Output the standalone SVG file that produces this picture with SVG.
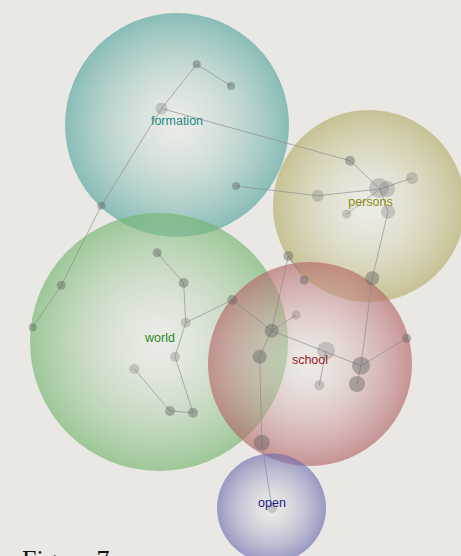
<svg xmlns="http://www.w3.org/2000/svg" width="461" height="556" viewBox="0 0 461 556">
<style>
.lbl{font-family:"Liberation Sans",Arial,sans-serif;font-size:12.5px;text-anchor:middle}
.d{fill:#5e5e5e;fill-opacity:0.42}
.dl{fill:#7a7a7a;fill-opacity:0.33}
.e{stroke:#8a8a8a;stroke-width:1;stroke-opacity:0.65;fill:none}
</style>
<defs>
<radialGradient id="gT"><stop offset="0" stop-color="#f4f4f0" stop-opacity="0.3"/><stop offset="1" stop-color="#4ea29c" stop-opacity="0.62"/></radialGradient>
<radialGradient id="gP"><stop offset="0" stop-color="#f4f4f0" stop-opacity="0.3"/><stop offset="1" stop-color="#b2aa62" stop-opacity="0.62"/></radialGradient>
<radialGradient id="gW"><stop offset="0" stop-color="#f4f4f0" stop-opacity="0.3"/><stop offset="1" stop-color="#6fb36a" stop-opacity="0.62"/></radialGradient>
<radialGradient id="gS"><stop offset="0" stop-color="#f4f4f0" stop-opacity="0.3"/><stop offset="1" stop-color="#b25f62" stop-opacity="0.62"/></radialGradient>
<radialGradient id="gO"><stop offset="0" stop-color="#f4f4f0" stop-opacity="0.3"/><stop offset="1" stop-color="#6767ad" stop-opacity="0.62"/></radialGradient>
</defs>
<rect width="461" height="556" fill="#e9e8e4"/>
<g id="formation-bubble"><circle cx="177" cy="125" r="112" fill="url(#gT)"/></g>
<g id="persons-bubble"><circle cx="369" cy="206" r="96" fill="url(#gP)"/></g>
<g id="world-bubble"><circle cx="159" cy="342" r="129" fill="url(#gW)"/></g>
<g id="school-bubble"><circle cx="310" cy="364" r="102" fill="url(#gS)"/></g>
<g id="open-bubble"><circle cx="271.5" cy="508" r="54.5" fill="url(#gO)"/></g>
<g id="connectors" class="e">
<line x1="196.7" y1="64.3" x2="231" y2="86"/>
<line x1="196.7" y1="64.3" x2="161.5" y2="108.5"/>
<line x1="161.5" y1="108.5" x2="101.3" y2="205.7"/>
<line x1="101.3" y1="205.7" x2="61.3" y2="285.3"/>
<line x1="61.3" y1="285.3" x2="32.7" y2="327.3"/>
<line x1="161.5" y1="108.5" x2="350" y2="160.7"/>
<line x1="236" y1="186" x2="317.7" y2="195.7"/>
<line x1="317.7" y1="195.7" x2="380" y2="189"/>
<line x1="350" y1="160.7" x2="380" y2="189"/>
<line x1="380" y1="189" x2="412" y2="178"/>
<line x1="380" y1="189" x2="346.7" y2="214"/>
<line x1="380" y1="189" x2="388" y2="211.7"/>
<line x1="388" y1="211.7" x2="372.3" y2="278.3"/>
<line x1="372.3" y1="278.3" x2="361" y2="365.7"/>
<line x1="361" y1="365.7" x2="357" y2="384"/>
<line x1="361" y1="365.7" x2="406.7" y2="338.3"/>
<line x1="271.7" y1="330.7" x2="361" y2="365.7"/>
<line x1="232.3" y1="300" x2="271.7" y2="330.7"/>
<line x1="185.7" y1="322.7" x2="232.3" y2="300"/>
<line x1="157.3" y1="252.7" x2="183.7" y2="283"/>
<line x1="183.7" y1="283" x2="185.7" y2="322.7"/>
<line x1="185.7" y1="322.7" x2="175" y2="356.7"/>
<line x1="175" y1="356.7" x2="193" y2="412.7"/>
<line x1="193" y1="412.7" x2="170" y2="411"/>
<line x1="170" y1="411" x2="134.3" y2="369"/>
<line x1="288.3" y1="256" x2="271.7" y2="330.7"/>
<line x1="288.3" y1="256" x2="304.3" y2="280"/>
<line x1="271.7" y1="330.7" x2="296" y2="315"/>
<line x1="271.7" y1="330.7" x2="259.7" y2="356.7"/>
<line x1="259.7" y1="356.7" x2="261.7" y2="442.7"/>
<line x1="261.7" y1="442.7" x2="272" y2="508"/>
<line x1="326" y1="350.7" x2="319.3" y2="385.3"/>
</g>
<g id="n1"><circle class="d" cx="196.7" cy="64.3" r="4"/></g>
<g id="n2"><circle class="d" cx="231" cy="86" r="4"/></g>
<g id="n3"><circle class="dl" cx="161.5" cy="108.5" r="6"/></g>
<g id="n4"><circle class="d" cx="236" cy="186" r="4"/></g>
<g id="n5"><circle class="d" cx="101.3" cy="205.7" r="4"/></g>
<g id="n6"><circle class="d" cx="61.3" cy="285.3" r="4.5"/></g>
<g id="n7"><circle class="d" cx="32.7" cy="327.3" r="4"/></g>
<g id="n8"><circle class="d" cx="157.3" cy="252.7" r="4.5"/></g>
<g id="n9"><circle class="d" cx="183.7" cy="283" r="5"/></g>
<g id="n10"><circle class="d" cx="232.3" cy="300" r="5"/></g>
<g id="n11"><circle class="dl" cx="185.7" cy="322.7" r="5"/></g>
<g id="n12"><circle class="dl" cx="175" cy="356.7" r="5"/></g>
<g id="n13"><circle class="dl" cx="134.3" cy="369" r="5"/></g>
<g id="n14"><circle class="d" cx="170" cy="411" r="5"/></g>
<g id="n15"><circle class="d" cx="193" cy="412.7" r="5"/></g>
<g id="n16"><circle class="d" cx="288.3" cy="256" r="5"/></g>
<g id="n17"><circle class="d" cx="304.3" cy="280" r="4.5"/></g>
<g id="n18"><circle class="dl" cx="296" cy="315" r="4.5"/></g>
<g id="n19"><circle class="d" cx="271.7" cy="330.7" r="7"/></g>
<g id="n20"><circle class="d" cx="259.7" cy="356.7" r="7"/></g>
<g id="n21"><circle class="dl" cx="326" cy="350.7" r="9"/></g>
<g id="n22"><circle class="d" cx="361" cy="365.7" r="9"/></g>
<g id="n23"><circle class="d" cx="406.7" cy="338.3" r="4.5"/></g>
<g id="n24"><circle class="d" cx="357" cy="384" r="8"/></g>
<g id="n25"><circle class="dl" cx="319.3" cy="385.3" r="5"/></g>
<g id="n26"><circle class="d" cx="261.7" cy="442.7" r="8"/></g>
<g id="n27"><circle class="d" cx="372.3" cy="278.3" r="7"/></g>
<g id="n28"><circle class="d" cx="350" cy="160.7" r="5"/></g>
<g id="n29"><circle class="dl" cx="379" cy="188" r="10"/></g>
<g id="n30"><circle class="dl" cx="387" cy="189" r="8"/></g>
<g id="n31"><circle class="dl" cx="412" cy="178" r="6"/></g>
<g id="n32"><circle class="dl" cx="317.7" cy="195.7" r="6"/></g>
<g id="n33"><circle class="dl" cx="346.7" cy="214" r="4.5"/></g>
<g id="n34"><circle class="dl" cx="388" cy="211.7" r="7"/></g>
<g id="n35"><circle class="dl" cx="272" cy="508" r="5"/></g>
<g id="label-formation"><text class="lbl" x="177" y="125" fill="#1e8a84">formation</text></g>
<g id="label-persons"><text class="lbl" x="370.5" y="206" fill="#8c8c14">persons</text></g>
<g id="label-world"><text class="lbl" x="160" y="342" fill="#1e8c1e">world</text></g>
<g id="label-school"><text class="lbl" x="310" y="364" fill="#9a1c1c">school</text></g>
<g id="label-open"><text class="lbl" x="272" y="507" fill="#1c1c8c">open</text></g>
<text x="22" y="568" font-family="'Liberation Serif','Times New Roman',serif" font-size="26" fill="#111">Figure 7</text>
</svg>
